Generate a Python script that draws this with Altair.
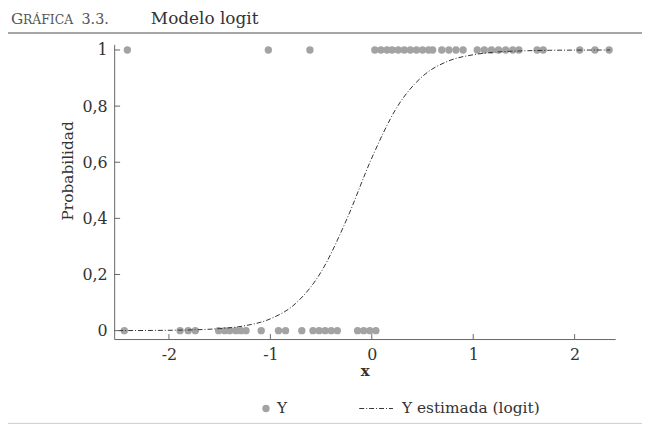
import altair as alt
import pandas as pd

# observed Y = 1
x_one = [-2.41, -1.02, -0.61, 0.03, 0.09, 0.15, 0.20, 0.26, 0.32, 0.38, 0.44, 0.50,
         0.56, 0.60, 0.69, 0.76, 0.83, 0.90, 1.04, 1.11, 1.18, 1.25, 1.32, 1.39,
         1.45, 1.63, 1.69, 2.05, 2.20, 2.34]
# observed Y = 0
x_zero = [-2.44, -1.89, -1.81, -1.74, -1.51, -1.45, -1.40, -1.34, -1.29, -1.24,
          -1.09, -0.92, -0.85, -0.69, -0.58, -0.52, -0.46, -0.40, -0.34, -0.14,
          -0.08, -0.02, 0.04]

# fitted logit curve
curve_x = [-2.5, -2.25, -2.0, -1.75, -1.5, -1.25, -1.0, -0.75, -0.5, -0.25,
           0.0, 0.25, 0.5, 0.75, 1.0, 1.25, 1.5, 1.75, 2.0, 2.35]
curve_p = [0.0002, 0.0005, 0.0012, 0.0029, 0.0072, 0.0175, 0.042, 0.097, 0.209, 0.394,
           0.615, 0.797, 0.906, 0.960, 0.983, 0.993, 0.997, 0.9989, 0.9995, 0.9999]

x_ticks = [-2, -1, 0, 1, 2]
y_ticks = [0, 0.2, 0.4, 0.6, 0.8, 1]

FONT = "DejaVu Serif"
W, H = 505, 297

pts = pd.DataFrame({"x": x_one + x_zero, "y": [1] * len(x_one) + [0] * len(x_zero)})
curve = pd.DataFrame({"x": curve_x, "p": curve_p})
xt = pd.DataFrame({"v": x_ticks})
yt = pd.DataFrame({"v": y_ticks})
one = pd.DataFrame({"a": [0]})

xscale = alt.Scale(domain=[-2.54, 2.4], nice=False, zero=False)
yscale = alt.Scale(domain=[-0.03, 1.02], nice=False, zero=False)

points = alt.Chart(pts).mark_circle(size=55, color="#a3a3a3", opacity=1).encode(
    x=alt.X("x:Q", scale=xscale,
            axis=alt.Axis(title="x", values=x_ticks, labelExpr="toString(datum.value)",
                          ticks=False, labelPadding=8, grid=False,
                          titleFontWeight="bold", titleFontSize=15,
                          titleY=37, titleBaseline="alphabetic")),
    y=alt.Y("y:Q", scale=yscale,
            axis=alt.Axis(title="Probabilidad", values=y_ticks,
                          labelExpr="replace(format(datum.value, '.1~f'), '.', ',')",
                          ticks=False, labelPadding=7, grid=False,
                          titleFontSize=15.5, titleFontWeight="normal",
                          titleX=-42, titleY=127, titleAlign="center",
                          titleBaseline="alphabetic", titleAngle=-90)),
)

line = alt.Chart(curve).mark_line(color="#333333", strokeWidth=1, strokeDash=[5, 2, 1, 2],
                                  interpolate="monotone").encode(
    x=alt.X("x:Q", scale=xscale), y=alt.Y("p:Q", scale=yscale))

xtick = alt.Chart(xt).mark_rule(color="#666666", strokeWidth=1).encode(
    x=alt.X("v:Q", scale=xscale), y=alt.value(H), y2=alt.value(H - 5))
ytick = alt.Chart(yt).mark_rule(color="#666666", strokeWidth=1).encode(
    y=alt.Y("v:Q", scale=yscale), x=alt.value(0), x2=alt.value(6))

def txt(s, x, y, size, color="#333333", weight="normal"):
    return alt.Chart(one).mark_text(text=s, align="left", baseline="alphabetic",
                                    font=FONT, fontSize=size, color=color,
                                    fontWeight=weight).encode(
        x=alt.value(x), y=alt.value(y))

title_g = txt("G", -104, -21, 15.5, "#555555")
title_r = txt("RÁFICA", -92, -21, 12.5, "#555555")
title_n = txt("3.3.", -33, -21, 14.5, "#555555")
title_m = txt("Modelo logit", 37, -21, 17, "#333333")

top_rule = alt.Chart(one).mark_rule(color="#888888", strokeWidth=1.5).encode(
    x=alt.value(-107), x2=alt.value(532), y=alt.value(-11.5))
bottom_rule = alt.Chart(one).mark_rule(color="#cccccc", strokeWidth=1).encode(
    x=alt.value(-107), x2=alt.value(532), y=alt.value(382))

leg_dot = alt.Chart(one).mark_circle(size=55, color="#a3a3a3", opacity=1).encode(
    x=alt.value(153), y=alt.value(367))
leg_y = alt.Chart(one).mark_text(text="Y", align="left", baseline="middle", font=FONT,
                                 fontSize=15.5, color="#333333").encode(
    x=alt.value(164), y=alt.value(367))
leg_line = alt.Chart(one).mark_rule(color="#333333", strokeWidth=1,
                                    strokeDash=[5, 2, 1, 2]).encode(
    x=alt.value(247), x2=alt.value(281), y=alt.value(367))
leg_t = alt.Chart(one).mark_text(text="Y estimada (logit)", align="left", baseline="middle",
                                 font=FONT, fontSize=15.5, color="#333333").encode(
    x=alt.value(290), y=alt.value(367))

chart = alt.layer(
    points, line, xtick, ytick, title_g, title_r, title_n, title_m,
    top_rule, bottom_rule, leg_dot, leg_y, leg_line, leg_t
).properties(
    width=W, height=H,
    autosize=alt.AutoSizeParams(type="none"),
    padding={"left": 107, "top": 35, "right": 27, "bottom": 88},
).configure_view(stroke=None).configure_axis(
    labelFont=FONT, titleFont=FONT, labelFontSize=16, labelColor="#333333",
    titleColor="#333333", domainColor="#666666", domainWidth=1,
)

chart.save("out.html", embed_options={"renderer": "svg", "actions": False})
